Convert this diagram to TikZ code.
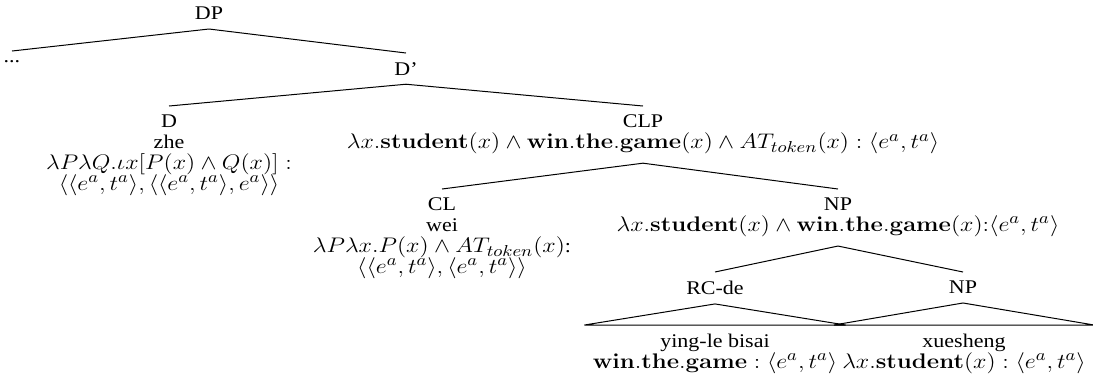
\documentclass[tikz,border=0pt]{standalone}
\usepackage[no-math]{fontspec}
\setmainfont{Liberation Serif}
\DeclareMathSizes{11}{12.5}{9}{7}
\usepackage{tikz}
\usetikzlibrary{positioning}
\newcommand\treefont{\fontsize{11}{11.8}\selectfont\lineskiplimit-20pt\relax}

\begin{document}
\begin{tikzpicture}[
    x=0.5pt, y=-0.5pt,
    cat/.style={
        align=center,
        inner xsep=4pt,
        inner ysep=5pt,
        yscale=0.88,
        font=\treefont
    },
    branch/.style={
        draw=black,
        line width=0.5pt
    }
]
\useasboundingbox (0,0) rectangle (1093,382);

% Top of the tree
\node[cat, anchor=south] (dp) at (209,29) {DP};
\node[cat, anchor=north] (dots) at (12,51) {...};
\node[cat, anchor=north] (dbar) at (406,53) {D'};

% Determiner and classifier phrase
\node[cat, anchor=north] (d) at (169,106) {D\\zhe\\
    $\lambda P\lambda Q.\iota x[P(x)\wedge Q(x)]:$\\
    $\langle\langle e^a,t^a\rangle,\langle\langle e^a,t^a\rangle,e^a\rangle\rangle$};
\node[cat, anchor=north] (clp) at (643,106) {CLP\\
    $\lambda x.\mathbf{student}(x)\wedge\mathbf{win}.\mathbf{the}.\mathbf{game}(x)\wedge AT_{token}(x):\langle e^a,t^a\rangle$};

% Classifier and noun phrase
\node[cat, anchor=north] (cl) at (442,189) {CL\\wei\\
    $\lambda P\lambda x.P(x)\wedge AT_{token}(x)${:}\\
    $\langle\langle e^a,t^a\rangle,\langle e^a,t^a\rangle\rangle$};
\node[cat, anchor=north] (np) at (838,189) {NP\\
    $\lambda x.\mathbf{student}(x)\wedge\mathbf{win}.\mathbf{the}.\mathbf{game}(x){:}\langle e^a,t^a\rangle$};

% Relative clause and head noun
\node[cat, anchor=north] (rc) at (715,272) {RC-de};
\node[cat, anchor=north] (npb) at (963,272) {NP};
\node[cat, anchor=north, minimum width=123pt] (rcleaf) at (715,325) {ying-le bisai\\
    $\mathbf{win}.\mathbf{the}.\mathbf{game}:\langle e^a,t^a\rangle$};
\node[cat, anchor=north, minimum width=126pt] (npleaf) at (964,325) {xuesheng\\
    $\lambda x.\mathbf{student}(x):\langle e^a,t^a\rangle$};

% Branches
\draw[branch] (dp.south) -- (dots.north);
\draw[branch] (dp.south) -- (dbar.north);
\draw[branch] (dbar.south) -- (d.north);
\draw[branch] (dbar.south) -- (clp.north);
\draw[branch] (clp.south) -- (cl.north);
\draw[branch] (clp.south) -- (np.north);
\draw[branch] (np.south) -- (rc.north);
\draw[branch] (np.south) -- (npb.north);

% Roofs
\draw[branch] (rc.south) -- (rcleaf.north west) -- (rcleaf.north east) -- cycle;
\draw[branch] (npb.south) -- (npleaf.north west) -- (npleaf.north east) -- cycle;

\end{tikzpicture}
\end{document}
